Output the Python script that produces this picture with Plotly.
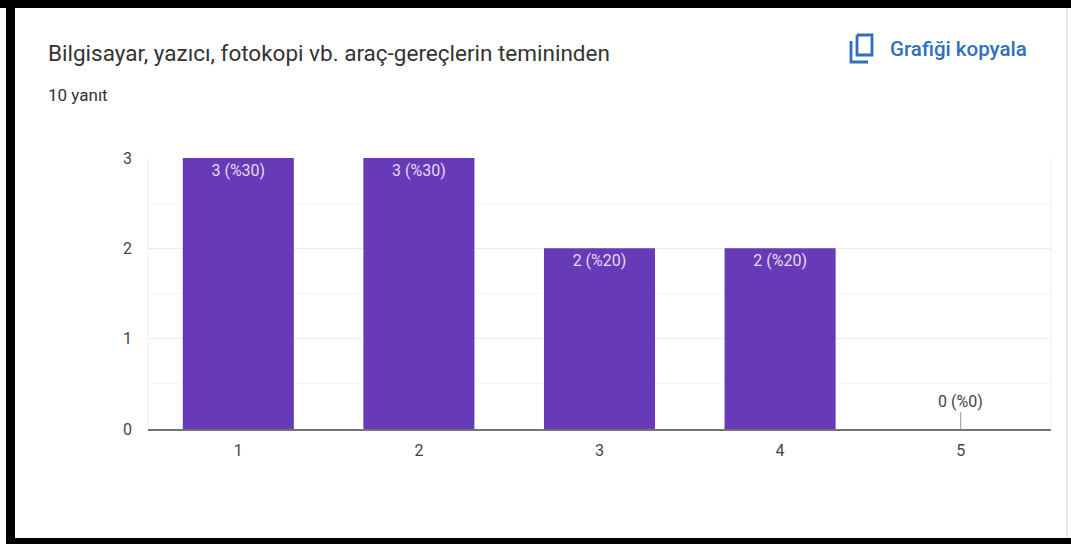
import plotly.graph_objects as go

categories = ["1", "2", "3", "4", "5"]
counts = [3, 3, 2, 2, 0]
percents = [30, 30, 20, 20, 0]
y_ticks = [0, 1, 2, 3]
title_text = "Bilgisayar, yazıcı, fotokopi vb. araç-gereçlerin temininden"
subtitle_text = "10 yanıt"
copy_text = "Grafiği kopyala"

W, H = 1071, 544
L, R, T, B = 148, 1051, 158, 429
FONT = "Roboto, sans-serif"
PURPLE = "#673ab7"
BLUE = "#2f6fbe"


def px(x):
    return (x - L) / (R - L)


def py(y):
    return (B - y) / (B - T)


labels = [f"{c} (%{p})" for c, p in zip(counts, percents)]
bar_text = [t if c > 0 else "" for t, c in zip(labels, counts)]

fig = go.Figure(
    go.Bar(
        x=categories,
        y=counts,
        text=bar_text,
        textposition="inside",
        insidetextanchor="end",
        textangle=0,
        constraintext="none",
        textfont=dict(family=FONT, size=16, color="#e6dcf5"),
        marker=dict(color=PURPLE, line=dict(width=0)),
        width=0.615,
        hoverinfo="skip",
    )
)


def rect(x0, y0, x1, y1, color, layer="above"):
    return dict(
        type="rect", xref="paper", yref="paper",
        x0=px(x0), x1=px(x1), y0=py(y0), y1=py(y1),
        fillcolor=color, line=dict(width=0), layer=layer,
    )


def seg(x0, y0, x1, y1, color, width):
    return dict(
        type="line", xref="paper", yref="paper",
        x0=px(x0), x1=px(x1), y0=py(y0), y1=py(y1),
        line=dict(color=color, width=width), layer="above",
    )


def path_shape(points, color, width):
    d = "M " + " L ".join(f"{px(x):.5f},{py(y):.5f}" for x, y in points)
    return dict(type="path", xref="paper", yref="paper", path=d,
                line=dict(color=color, width=width), layer="above")


shapes = [
    rect(0, 0, W, 8, "#000000"),
    rect(6, 0, 15, H, "#000000"),
    rect(6, 538, W, H, "#000000"),
    rect(1066, 8, 1068, 538, "#e8e6f2"),
    seg(L, T, L, B - 1, "#eeeeee", 1),
    seg(R, T, R, B - 1, "#eeeeee", 1),
    # copy icon
    path_shape([(857, 35), (872, 35), (872, 55), (857, 55), (857, 35)], BLUE, 2.8),
    path_shape([(851, 41), (851, 62), (868, 62)], BLUE, 2.8),
]

annotations = [
    dict(text=title_text, xref="paper", yref="paper", x=px(46), y=py(53),
         xanchor="left", yanchor="middle", showarrow=False,
         font=dict(family=FONT, size=22.5, color="#333333")),
    dict(text=subtitle_text, xref="paper", yref="paper", x=px(46), y=py(95),
         xanchor="left", yanchor="middle", showarrow=False,
         font=dict(family=FONT, size=17, color="#333333")),
    dict(text=copy_text, xref="paper", yref="paper", x=px(888), y=py(49),
         xanchor="left", yanchor="middle", showarrow=False,
         font=dict(family=FONT, size=20.5, color=BLUE, weight=500)),
]

for i, (count, label) in enumerate(zip(counts, labels)):
    if count == 0:
        annotations.append(
            dict(text=label, x=i, y=count, xref="x", yref="y",
                 showarrow=True, arrowhead=0, arrowwidth=1, arrowcolor="#999999",
                 ax=0, ay=-28, font=dict(family=FONT, size=16, color="#444444"))
        )

fig.update_layout(
    width=W,
    height=H,
    autosize=False,
    margin=dict(l=L, r=W - R, t=T, b=H - B, pad=0),
    paper_bgcolor="#ffffff",
    plot_bgcolor="#ffffff",
    showlegend=False,
    shapes=shapes,
    annotations=annotations,
    xaxis=dict(
        type="category",
        range=[-0.5, 4.5],
        showgrid=False,
        showline=True,
        linecolor="#757575",
        linewidth=2,
        ticks="",
        ticklabelstandoff=6,
        tickfont=dict(family=FONT, size=16, color="#444444"),
        zeroline=False,
    ),
    yaxis=dict(
        range=[0, 3],
        tickvals=y_ticks,
        showgrid=True,
        gridcolor="#ececec",
        gridwidth=1,
        minor=dict(dtick=0.5, showgrid=True, gridcolor="#f7f7f7", gridwidth=1),
        zeroline=False,
        ticks="",
        ticklabelstandoff=15,
        tickfont=dict(family=FONT, size=16, color="#444444"),
    ),
)

fig.write_html(
    "out.html",
    config=dict(displayModeBar=False),
    post_script="document.body.style.margin='0';",
)
